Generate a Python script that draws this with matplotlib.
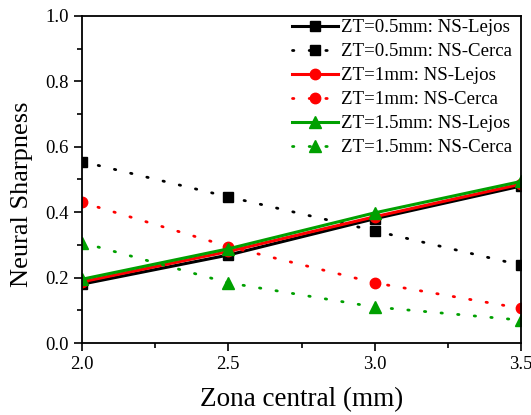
import matplotlib
matplotlib.use("Agg")
import matplotlib.pyplot as plt
from matplotlib.ticker import MultipleLocator, FormatStrFormatter

plt.rcParams['font.family'] = ['Liberation Serif', 'DejaVu Serif']

zona = [2.0, 2.5, 3.0, 3.5]

lejos_05 = [0.180, 0.269, 0.380, 0.480]
cerca_05 = [0.555, 0.447, 0.343, 0.238]
lejos_10 = [0.187, 0.280, 0.386, 0.486]
cerca_10 = [0.430, 0.295, 0.184, 0.106]
lejos_15 = [0.195, 0.288, 0.398, 0.494]
cerca_15 = [0.307, 0.184, 0.110, 0.070]

labels = [
    "ZT=0.5mm: NS-Lejos", "ZT=0.5mm: NS-Cerca",
    "ZT=1mm: NS-Lejos", "ZT=1mm: NS-Cerca",
    "ZT=1.5mm: NS-Lejos", "ZT=1.5mm: NS-Cerca",
]

fig = plt.figure(figsize=(5.31, 4.15), dpi=100)
ax = fig.add_axes([82 / 531, 1 - 343 / 415, (521 - 82) / 531, (343 - 16) / 415])

black, red, green = "#000000", "#ff0000", "#00a000"
dot = (0, (0.5, 5.5))

series = [
    (lejos_05, black, "s", "-"), (cerca_05, black, "s", dot),
    (lejos_10, red, "o", "-"), (cerca_10, red, "o", dot),
    (lejos_15, green, "^", "-"), (cerca_15, green, "^", dot),
]
msize = {"s": 6.8, "o": 7.5, "^": 8.5}
for (vals, col, mk, ls), lab in zip(series, labels):
    lw = 2.2 if ls == "-" else 2.0
    ax.plot(zona, vals, color=col, marker=mk, linestyle=ls, linewidth=lw,
            markersize=msize[mk], label=lab, dash_capstyle="round")

ax.set_xlim(2.0, 3.5)
ax.set_ylim(0.0, 1.0)
ax.xaxis.set_major_locator(MultipleLocator(0.5))
ax.xaxis.set_minor_locator(MultipleLocator(0.25))
ax.yaxis.set_major_locator(MultipleLocator(0.2))
ax.yaxis.set_minor_locator(MultipleLocator(0.1))
ax.xaxis.set_major_formatter(FormatStrFormatter("%.1f"))
ax.yaxis.set_major_formatter(FormatStrFormatter("%.1f"))
ax.tick_params(which="both", direction="out", top=False, right=False, width=1.2)
ax.tick_params(which="major", length=6, labelsize=13.5)
ax.tick_params(which="minor", length=3.5)
for s in ax.spines.values():
    s.set_linewidth(1.3)

ax.set_xlabel("Zona central (mm)", fontsize=19.5, labelpad=10)
ax.set_ylabel("Neural Sharpness", fontsize=19)
ax.yaxis.set_label_coords(-0.112, 0.4535)

ax.legend(loc="upper right", frameon=False, fontsize=13.6, handlelength=2.4,
          labelspacing=0.36, handletextpad=0.2, borderaxespad=0.05,
          bbox_to_anchor=(1.0, 1.017))

fig.savefig("out.png", dpi=100)
